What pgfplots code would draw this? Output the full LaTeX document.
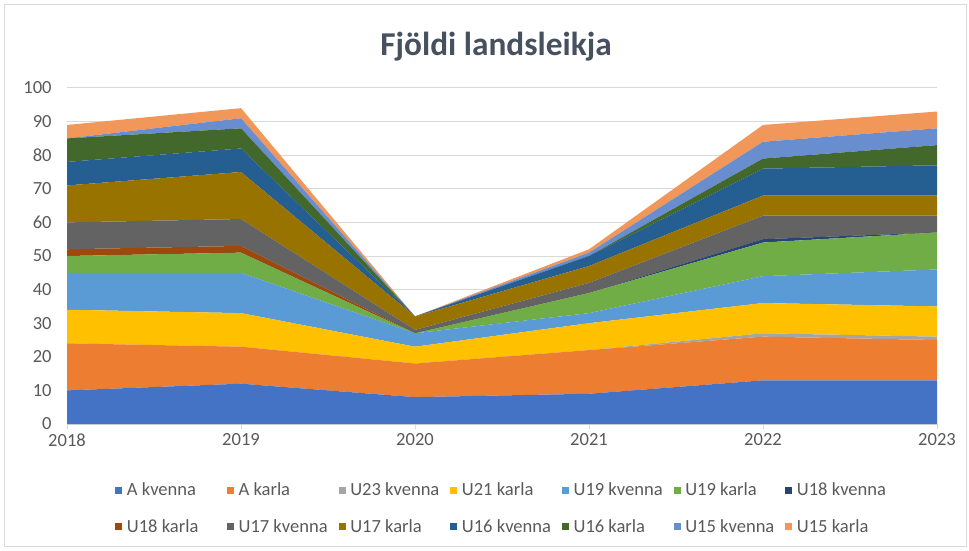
\documentclass[border=0pt]{standalone}
\usepackage{pgfplots}
\usepackage{pgfplotstable}
\pgfplotsset{compat=1.18}
\usepackage{fontspec}
\setmainfont{Carlito}
\definecolor{c1}{HTML}{4472C4}
\definecolor{c2}{HTML}{ED7D31}
\definecolor{c3}{HTML}{A5A5A5}
\definecolor{c4}{HTML}{FFC000}
\definecolor{c5}{HTML}{5B9BD5}
\definecolor{c6}{HTML}{70AD47}
\definecolor{c7}{HTML}{264478}
\definecolor{c8}{HTML}{9E480E}
\definecolor{c9}{HTML}{636363}
\definecolor{c10}{HTML}{997300}
\definecolor{c11}{HTML}{255E91}
\definecolor{c12}{HTML}{43682B}
\definecolor{c13}{HTML}{698ED0}
\definecolor{c14}{HTML}{F1975A}
\definecolor{txtgray}{HTML}{595959}
\definecolor{titlegray}{HTML}{46505E}
\definecolor{gridgray}{HTML}{D9D9D9}
\pgfplotstableread{
year Akv Aka U23kv U21ka U19kv U19ka U18kv U18ka U17kv U17ka U16kv U16ka U15kv U15ka
2018 10 14 0 10 11 5 0 2 8 11 7 7 0 4
2019 12 11 0 10 12 6 0 2 8 14 7 6 3 3
2020 8 10 0 5 4 0 0 0 1 4 0 0 0 0
2021 9 13 0 8 3 6 0 0 3 5 3 0 1 1
2022 13 13 1 9 8 10 1 0 7 6 8 3 5 5
2023 13 12 1 9 11 11 0 0 5 6 9 6 5 5
}\data
\begin{document}
\begin{tikzpicture}
\path[use as bounding box] (0pt,0pt) rectangle (726.75pt,412.5pt);
\draw[gridgray, line width=0.75pt] (3pt,3pt) rectangle (724.5pt,408.75pt);
\node[font=\fontsize{25}{30}\selectfont\bfseries, text=titlegray, anchor=base] at (372pt,370.9pt) {Fjöldi landsleikja};
\begin{axis}[
  at={(50.25pt,94.5pt)}, anchor=south west,
  scale only axis, width=652.5pt, height=252pt,
  xmin=2018, xmax=2023, ymin=0, ymax=100,
  xtick={2018,2019,2020,2021,2022,2023},
  ytick={0,10,...,100},
  stack plots=y,
  axis lines*=left,
  axis line style={-},
  x axis line style={draw=gridgray, line width=0.75pt},
  y axis line style={draw=none},
  tick align=outside,
  major tick length=3.75pt,
  xtick style={draw=gridgray, line width=0.75pt},
  ytick style={draw=none},
  ymajorgrids,
  grid style={draw=gridgray, line width=0.75pt},
  ticklabel style={font=\fontsize{13.9}{16}\selectfont, text=txtgray},
  yticklabel style={xshift=-4.25pt},
  /pgf/number format/assume math mode=true,
  /pgf/number format/1000 sep={},
  legend columns=7,
  legend cell align=left,
  legend style={draw=none, fill=none, inner sep=0pt, at={(0.05517,-0.2515)}, anchor=west,
    font=\fontsize{13.9}{16}\selectfont, text=txtgray, row sep=16.5pt,
    nodes={inner xsep=3.5pt, inner ysep=0pt},
    /tikz/every odd column/.append style={column sep=0pt},
    /tikz/every even column/.append style={column sep=0pt}},
  legend image code/.code={\fill[#1] (0pt,-2.6pt) rectangle (5.25pt,2.6pt);},
  every axis plot/.append style={draw=none},
]
\addplot[fill=c1] table[x=year,y=Akv]{\data} \closedcycle;
\addlegendentry{\makebox[71.5pt][l]{A kvenna}}
\addplot[fill=c2] table[x=year,y=Aka]{\data} \closedcycle;
\addlegendentry{\makebox[71.5pt][l]{A karla}}
\addplot[fill=c3] table[x=year,y=U23kv]{\data} \closedcycle;
\addlegendentry{\makebox[71.5pt][l]{U23 kvenna}}
\addplot[fill=c4] table[x=year,y=U21ka]{\data} \closedcycle;
\addlegendentry{\makebox[71.5pt][l]{U21 karla}}
\addplot[fill=c5] table[x=year,y=U19kv]{\data} \closedcycle;
\addlegendentry{\makebox[71.5pt][l]{U19 kvenna}}
\addplot[fill=c6] table[x=year,y=U19ka]{\data} \closedcycle;
\addlegendentry{\makebox[71.5pt][l]{U19 karla}}
\addplot[fill=c7] table[x=year,y=U18kv]{\data} \closedcycle;
\addlegendentry{\makebox[71.5pt][l]{U18 kvenna}}
\addplot[fill=c8] table[x=year,y=U18ka]{\data} \closedcycle;
\addlegendentry{\makebox[71.5pt][l]{U18 karla}}
\addplot[fill=c9] table[x=year,y=U17kv]{\data} \closedcycle;
\addlegendentry{\makebox[71.5pt][l]{U17 kvenna}}
\addplot[fill=c10] table[x=year,y=U17ka]{\data} \closedcycle;
\addlegendentry{\makebox[71.5pt][l]{U17 karla}}
\addplot[fill=c11] table[x=year,y=U16kv]{\data} \closedcycle;
\addlegendentry{\makebox[71.5pt][l]{U16 kvenna}}
\addplot[fill=c12] table[x=year,y=U16ka]{\data} \closedcycle;
\addlegendentry{\makebox[71.5pt][l]{U16 karla}}
\addplot[fill=c13] table[x=year,y=U15kv]{\data} \closedcycle;
\addlegendentry{\makebox[71.5pt][l]{U15 kvenna}}
\addplot[fill=c14] table[x=year,y=U15ka]{\data} \closedcycle;
\addlegendentry{\makebox[71.5pt][l]{U15 karla}}
\end{axis}
\end{tikzpicture}
\end{document}
